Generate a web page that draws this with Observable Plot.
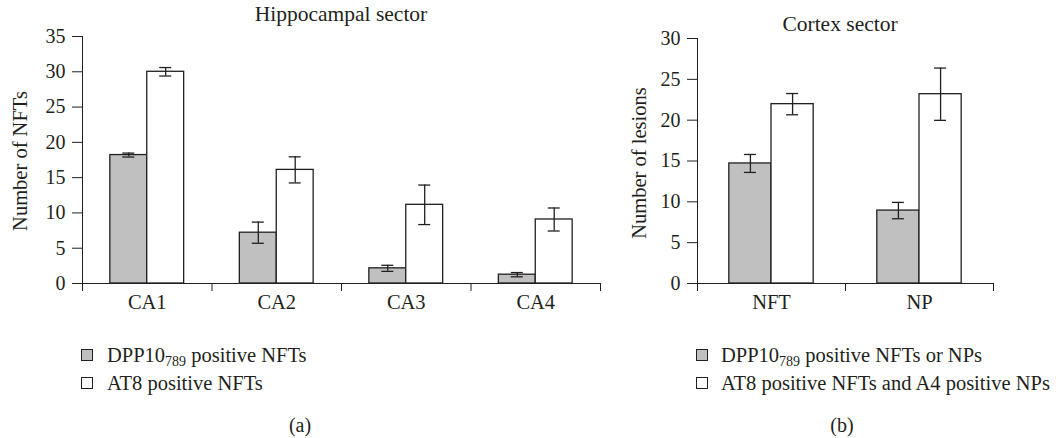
<!DOCTYPE html>
<html>
<head>
<meta charset="utf-8">
<script src="https://cdn.jsdelivr.net/npm/d3@7"></script>
<script src="https://cdn.jsdelivr.net/npm/@observablehq/plot@0.6"></script>
<style>
  html, body { margin: 0; padding: 0; background: #fff; }
  #root { position: relative; width: 1061px; height: 438px; overflow: hidden;
          font-family: "Liberation Serif", "DejaVu Serif", serif; color: #231f20; }
  .abs { position: absolute; white-space: nowrap; font-size: 20px; line-height: 1; }
  .title { font-size: 21.5px; }
  .center { transform: translate(-50%, -50%); }
  .ylab { transform: translate(-50%, -50%) rotate(-90deg); font-size: 20.5px; }
  .legend { position: absolute; font-size: 20.5px; }
  .legend .row { display: flex; align-items: center; height: 28px; white-space: nowrap; }
  .legend .box { width: 12px; height: 12px; border: 1px solid #231f20; box-sizing: border-box; }
  .legend sub { font-size: 14px; vertical-align: -4px; line-height: 0; }
  .panel { position: absolute; top: 0; }
</style>
</head>
<body>
<div id="root"></div>
<script>
// ---------- data ----------
const categoriesA = ["CA1", "CA2", "CA3", "CA4"];
const dppA    = [18.2, 7.2, 2.15, 1.25];
const dppErrA = [0.28, 1.5, 0.43, 0.3];
const at8A    = [30.0, 16.1, 11.15, 9.07];
const at8ErrA = [0.6, 1.85, 2.8, 1.63];

const categoriesB = ["NFT", "NP"];
const dppB    = [14.7, 8.93];
const dppErrB = [1.1, 1.0];
const at8B    = [21.96, 23.18];
const at8ErrB = [1.3, 3.2];

const titleA = "Hippocampal sector";
const titleB = "Cortex sector";
const yLabelA = "Number of NFTs";
const yLabelB = "Number of lesions";
const legendA = ["DPP10<sub>789</sub> positive NFTs", "AT8 positive NFTs"];
const legendB = ["DPP10<sub>789</sub> positive NFTs or NPs", "AT8 positive NFTs and A4 positive NPs"];
const captionA = "(a)";
const captionB = "(b)";
const yMaxA = 35, yTicksA = 7;
const yMaxB = 30, yTicksB = 6;

// ---------- styles ----------
const INK = "#231f20";
const FILLS = ["#c0c0c0", "#ffffff"];
const BAR_OFF = [0.215, 0.5];
const BAR_W = 0.285;
const FONT = '"Liberation Serif", "DejaVu Serif", serif';

const root = document.getElementById("root");

function panel({cats, vals, errs, ymax, yticks, left, width, height, mt, mb, ml, mr}) {
  const n = cats.length;
  const rows = [];
  cats.forEach((c, i) => vals.forEach((arr, s) => {
    rows.push({i, s, v: arr[i], e: errs[s][i], cx: i + BAR_OFF[s] + BAR_W / 2});
  }));
  const bandPx = (width - ml - mr) / n;
  const cap = 6 / bandPx;
  const caps = rows.flatMap(r => [{...r, y: r.v + r.e}, {...r, y: r.v - r.e}]);
  const labels = cats.map((c, i) => ({c, i}));
  const chart = Plot.plot({
    width, height,
    marginTop: mt, marginBottom: mb, marginLeft: ml, marginRight: mr,
    style: {fontFamily: FONT, fontSize: "20px", color: INK, background: "transparent", overflow: "visible"},
    x: {domain: [0, n], ticks: n, tickFormat: () => "", tickSize: 8, label: null, line: true},
    y: {domain: [0, ymax], ticks: yticks, tickSize: 10, tickPadding: 7, label: null, line: true},
    marks: [
      Plot.rectY(rows, {
        x1: r => r.i + BAR_OFF[r.s], x2: r => r.i + BAR_OFF[r.s] + BAR_W,
        y1: () => 0, y2: r => r.v,
        fill: r => FILLS[r.s], stroke: INK, strokeWidth: 1.3
      }),
      Plot.ruleX(rows, {x: "cx", y1: r => r.v - r.e, y2: r => r.v + r.e, stroke: INK, strokeWidth: 1.3}),
      Plot.ruleY(caps, {y: "y", x1: r => r.cx - cap, x2: r => r.cx + cap, stroke: INK, strokeWidth: 1.3}),
      Plot.text(labels, {x: d => d.i + 0.5, y: () => 0, text: "c", dy: 19, fontSize: 20.5, fill: INK})
    ]
  });
  const wrap = document.createElement("div");
  wrap.className = "panel";
  wrap.style.left = left + "px";
  wrap.appendChild(chart);
  root.appendChild(wrap);
}

function text(str, x, y, cls) {
  const d = document.createElement("div");
  d.className = "abs " + cls;
  d.style.left = x + "px";
  d.style.top = y + "px";
  d.textContent = str;
  root.appendChild(d);
}

function legend(items, x, y, boxGap) {
  const L = document.createElement("div");
  L.className = "legend";
  L.style.left = x + "px";
  L.style.top = y + "px";
  items.forEach((html, s) => {
    const row = document.createElement("div");
    row.className = "row";
    const box = document.createElement("div");
    box.className = "box";
    box.style.background = FILLS[s];
    box.style.marginRight = boxGap + "px";
    const t = document.createElement("span");
    t.innerHTML = html;
    row.appendChild(box);
    row.appendChild(t);
    L.appendChild(row);
  });
  root.appendChild(L);
}

panel({cats: categoriesA, vals: [dppA, at8A], errs: [dppErrA, at8ErrA], ymax: yMaxA, yticks: yTicksA,
       left: 0, width: 615, height: 310, mt: 36, mb: 27, ml: 82, mr: 15});
panel({cats: categoriesB, vals: [dppB, at8B], errs: [dppErrB, at8ErrB], ymax: yMaxB, yticks: yTicksB,
       left: 615, width: 446, height: 310, mt: 38, mb: 27, ml: 82, mr: 68});

text(titleA, 341, 15, "title center");
text(titleB, 840, 25, "title center");
text(yLabelA, 20, 161, "ylab");
text(yLabelB, 639, 163, "ylab");
legend(legendA, 81, 341, 14);
legend(legendB, 696, 341, 13);
text(captionA, 300, 425, "center");
text(captionB, 842, 425, "center");
</script>
</body>
</html>
